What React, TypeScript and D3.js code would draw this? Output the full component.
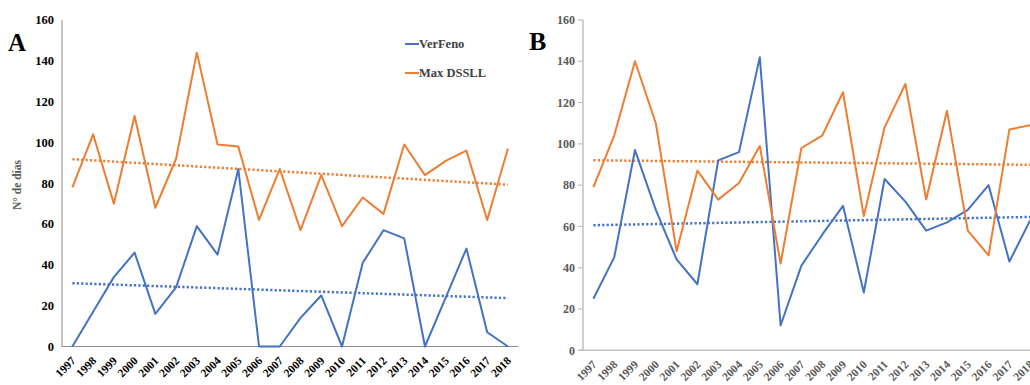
import React from "react";
import * as d3 from "d3";

const years = ["1997","1998","1999","2000","2001","2002","2003","2004","2005","2006","2007","2008","2009","2010","2011","2012","2013","2014","2015","2016","2017","2018"];
const yTicks = [0, 20, 40, 60, 80, 100, 120, 140, 160];

const verFenoA = [0,17,34,46,16,29,59,45,87,0,0,14,25,0,41,57,53,0,24,48,7,0];
const maxDsslA = [78,104,70,113,68,92,144,99,98,62,87,57,84,59,73,65,99,84,91,96,62,97];

const verFenoB = [25,45,97,68,44,32,92,96,142,12,41,56,70,28,83,72,58,62,68,80,43,63];
const maxDsslB = [79,104,140,110,48,87,73,81,99,42,98,104,125,65,108,129,73,116,58,46,107,109];

const BLUE = "#4472C4";
const ORANGE = "#ED7D31";
const FONT = "'Liberation Serif', 'Times New Roman', serif";

function regression(vals: number[]) {
  const n = vals.length;
  const xs = vals.map((_, i) => i);
  const mx = d3.mean(xs)!;
  const my = d3.mean(vals)!;
  let num = 0, den = 0;
  xs.forEach((x, i) => { num += (x - mx) * (vals[i] - my); den += (x - mx) ** 2; });
  const slope = num / den;
  const b = my - slope * mx;
  return [b, b + slope * (n - 1)];
}

type PanelProps = {
  x0: number; x1: number; yTop: number; yBottom: number;
  blue: number[]; orange: number[];
  variant: "A" | "B";
};

function Panel({ x0, x1, yTop, yBottom, blue, orange, variant }: PanelProps) {
  const x = d3.scaleBand<string>().domain(years).range([x0, x1]).padding(0);
  const y = d3.scaleLinear().domain([0, 160]).range([yBottom, yTop]);
  const cx = (yr: string) => x(yr)! + x.bandwidth() / 2;
  const line = d3.line<number>().x((_, i) => cx(years[i])).y((v) => y(v));
  const isA = variant === "A";
  const axisColor = isA ? "#8c8c8c" : "#bfbfbf";
  const labelColor = isA ? "#000000" : "#595959";
  const trendB = regression(blue);
  const trendO = regression(orange);
  const first = cx(years[0]);
  const last = cx(years[years.length - 1]);
  return (
    <g>
      {/* axes */}
      <line x1={x0} x2={x0} y1={yTop} y2={yBottom} stroke={axisColor} strokeWidth={isA ? 1 : 1.5} />
      <line x1={isA ? x0 : x0 - 4} x2={x1} y1={yBottom} y2={yBottom} stroke={axisColor} strokeWidth={isA ? 1 : 1.5} />
      {yTicks.map((t) => (
        <g key={t}>
          {!isA && <line x1={x0 - 5} x2={x0} y1={y(t)} y2={y(t)} stroke={axisColor} strokeWidth={1.2} />}
          <text x={isA ? x0 - 8 : x0 - 8} y={y(t)} dy="0.35em" textAnchor="end"
            fontFamily={FONT} fontWeight="bold" fontSize={isA ? 12.5 : 12} fill={labelColor}>{t}</text>
        </g>
      ))}
      {years.map((yr) => (
        <text key={yr} transform={`translate(${cx(yr) + 4},${yBottom + 15}) rotate(-45)`}
          textAnchor="end" fontFamily={FONT} fontWeight="bold" fontSize={11.5} fill={labelColor}>{yr}</text>
      ))}
      {/* trend lines */}
      <line x1={first} x2={last} y1={y(trendO[0])} y2={y(trendO[1])} stroke={ORANGE} strokeWidth={2.5} strokeDasharray="2.2,2.2" />
      <line x1={first} x2={last} y1={y(trendB[0])} y2={y(trendB[1])} stroke={BLUE} strokeWidth={2.5} strokeDasharray="2.2,2.2" />
      {/* series */}
      <path d={line(blue)!} fill="none" stroke={BLUE} strokeWidth={2} strokeLinejoin="round" />
      <path d={line(orange)!} fill="none" stroke={ORANGE} strokeWidth={2} strokeLinejoin="round" />
    </g>
  );
}

export default function App() {
  return (
    <svg width={1030} height={385} style={{ position: "absolute", left: 0, top: 0, background: "#fff" }}>
      <rect width={1030} height={385} fill="#fff" />
      <Panel x0={62} x1={518.3} yTop={20} yBottom={346.5} blue={verFenoA} orange={maxDsslA} variant="A" />
      <Panel x0={583} x1={1040.6} yTop={20} yBottom={350.3} blue={verFenoB} orange={maxDsslB} variant="B" />
      <text x={8} y={51} fontFamily={FONT} fontWeight="bold" fontSize={25} fill="#000">A</text>
      <text x={529} y={50} fontFamily={FONT} fontWeight="bold" fontSize={26} fill="#000">B</text>
      <text transform="translate(21,185) rotate(-90)" textAnchor="middle" fontFamily={FONT} fontWeight="bold" fontSize={11.5} fill="#595959">N° de días</text>
      <line x1={405} x2={419} y1={44} y2={44} stroke={BLUE} strokeWidth={2} />
      <text x={419} y={48} fontFamily={FONT} fontWeight="bold" fontSize={12.5} fill="#404040">VerFeno</text>
      <line x1={405} x2={419} y1={73} y2={73} stroke={ORANGE} strokeWidth={2} />
      <text x={419} y={77} fontFamily={FONT} fontWeight="bold" fontSize={12.5} fill="#404040">Max DSSLL</text>
    </svg>
  );
}
